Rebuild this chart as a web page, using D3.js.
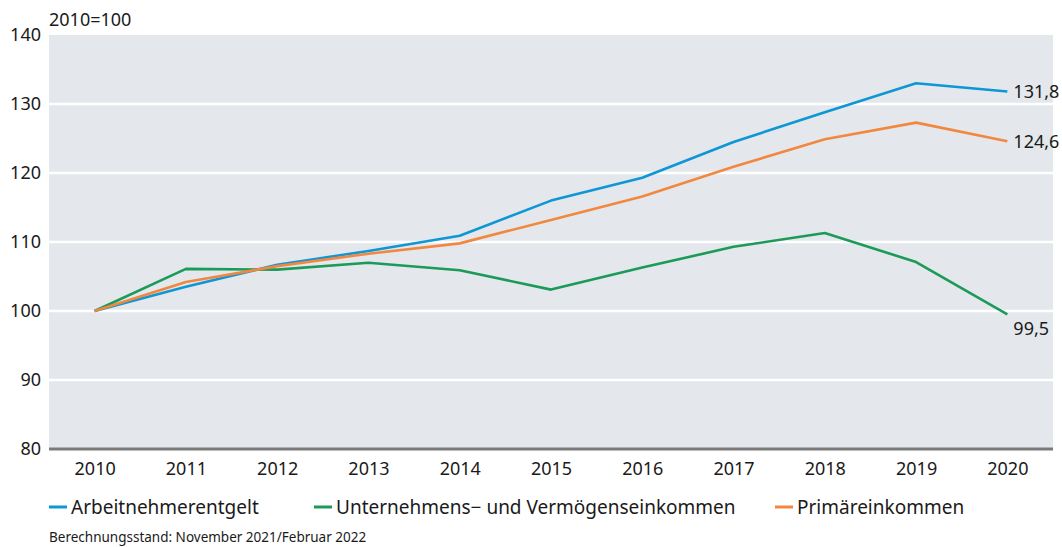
<!DOCTYPE html>
<html lang="de">
<head>
<meta charset="UTF-8">
<title>Primäreinkommen</title>
<script src="https://cdn.jsdelivr.net/npm/d3@7"></script>
<style>
  body { margin: 0; background: #fff; }
  text { font-family: "Noto Sans", sans-serif; fill: #1a1a1a; }
</style>
</head>
<body>
<svg id="chart" width="1062" height="547"></svg>
<script>
// Daten (2010=100)
var years = ["2010","2011","2012","2013","2014","2015","2016","2017","2018","2019","2020"];
var arbeitnehmer = [100, 103.5, 106.7, 108.7, 110.9, 116.0, 119.3, 124.5, 128.8, 133.0, 131.8];
var unternehmen  = [100, 106.1, 106.0, 107.0, 105.9, 103.1, 106.3, 109.3, 111.3, 107.1, 99.5];
var primaer      = [100, 104.2, 106.5, 108.3, 109.8, 113.2, 116.6, 120.9, 124.9, 127.3, 124.6];
var yTicks = [80, 90, 100, 110, 120, 130, 140];

var series = [
  { name: "Arbeitnehmerentgelt", values: arbeitnehmer, color: "#0f96d4", label: "131,8", dy: 0, lx: 49 },
  { name: "Unternehmens\u2212 und Vermögenseinkommen", values: unternehmen, color: "#1b9a58", label: "99,5", dy: 14, lx: 314 },
  { name: "Primäreinkommen", values: primaer, color: "#f2873f", label: "124,6", dy: 0, lx: 775 }
];

var svg = d3.select("#chart");
var plotL = 49, plotR = 1053, plotT = 35, plotB = 449;

var x = d3.scalePoint().domain(years).range([plotL, plotR]).padding(0.5);
var y = d3.scaleLinear().domain([80, 140]).range([plotB, plotT]);

// Hintergrund
svg.append("rect")
  .attr("x", plotL).attr("y", plotT)
  .attr("width", plotR - plotL).attr("height", plotB - plotT)
  .attr("fill", "#e4e8ec");

// Gitterlinien
svg.selectAll(".grid")
  .data(yTicks.filter(function(d) { return d > 80 && d < 140; }))
  .enter().append("line")
  .attr("x1", plotL).attr("x2", plotR)
  .attr("y1", function(d) { return y(d); })
  .attr("y2", function(d) { return y(d); })
  .attr("stroke", "#fff").attr("stroke-width", 2.5);

// Achsenlinie
svg.append("line")
  .attr("x1", plotL).attr("x2", plotR)
  .attr("y1", y(80)).attr("y2", y(80))
  .attr("stroke", "#7a7a7a").attr("stroke-width", 3);

// y-Beschriftung
svg.selectAll(".ytick")
  .data(yTicks)
  .enter().append("text")
  .attr("x", 41)
  .attr("y", function(d) { return y(d); })
  .attr("dy", "0.32em")
  .attr("text-anchor", "end")
  .attr("font-size", 18)
  .text(function(d) { return d; });

svg.append("text")
  .attr("x", 49).attr("y", 26)
  .attr("font-size", 18)
  .text("2010=100");

// x-Beschriftung
var xAxis = d3.axisBottom(x).tickSize(0).tickPadding(0);
var gx = svg.append("g").attr("transform", "translate(0," + (plotB + 26) + ")").call(xAxis);
gx.select(".domain").remove();
gx.selectAll("text")
  .attr("font-size", 18)
  .attr("font-family", "Noto Sans, sans-serif")
  .attr("fill", "#1a1a1a")
  .attr("dy", 0);

// Linien
var line = d3.line()
  .x(function(d, i) { return x(years[i]); })
  .y(function(d) { return y(d); });

svg.selectAll(".series")
  .data(series)
  .enter().append("path")
  .attr("d", function(s) { return line(s.values); })
  .attr("fill", "none")
  .attr("stroke", function(s) { return s.color; })
  .attr("stroke-width", 2.6)
  .attr("stroke-linejoin", "round");

// Endwerte
svg.selectAll(".endlabel")
  .data(series)
  .enter().append("text")
  .attr("x", x(years[years.length - 1]) + 6)
  .attr("y", function(s) { return y(s.values[s.values.length - 1]) + s.dy; })
  .attr("dy", "0.35em")
  .attr("font-size", 18)
  .text(function(s) { return s.label; });

// Legende
var leg = svg.selectAll(".legend")
  .data(series)
  .enter().append("g")
  .attr("transform", function(s) { return "translate(" + s.lx + ",507)"; });
leg.append("line")
  .attr("x1", 0).attr("x2", 18)
  .attr("stroke", function(s) { return s.color; })
  .attr("stroke-width", 3);
leg.append("text")
  .attr("x", 22).attr("dy", "0.35em")
  .attr("font-size", 19)
  .text(function(s) { return s.name; });

svg.append("text")
  .attr("x", 49).attr("y", 542)
  .attr("font-size", 13.5)
  .text("Berechnungsstand: November 2021/Februar 2022");
</script>
</body>
</html>
